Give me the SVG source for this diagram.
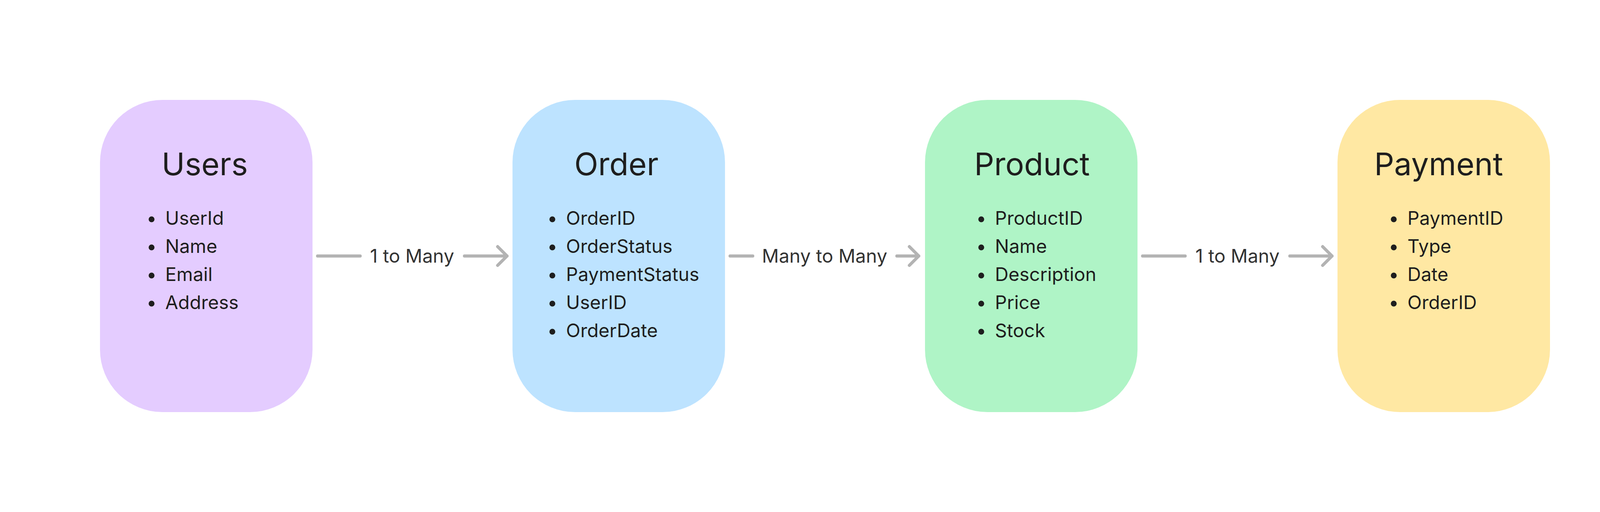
<svg xmlns="http://www.w3.org/2000/svg" width="4224" height="1312" viewBox="0 0 4224 1312">
  <style>
    .box { stroke: none; }
    .title { font-family: Inter, "Noto Sans", "Liberation Sans", sans-serif; font-size: 80px; fill: #1e1e1e; text-anchor: middle; }
    .item { font-family: Inter, "Noto Sans", "Liberation Sans", sans-serif; font-size: 48px; fill: #1e1e1e; }
    .dot { fill: #1e1e1e; }
    .edge { fill: none; stroke: #b3b3b3; stroke-width: 8; stroke-linecap: round; stroke-linejoin: round; }
    .label { font-family: Inter, "Noto Sans", "Liberation Sans", sans-serif; font-size: 48px; fill: #333333; text-anchor: middle; }
  </style>
  <rect width="4224" height="1312" fill="#ffffff"/>

  <g id="connectors">
    <g id="users-order">
      <path class="edge" d="M813 656 L922 656"/>
      <path class="edge" d="M1189 656 L1298 656 M1274 632 L1298 656 L1274 680"/>
      <text class="label" x="1055" y="673">1 to Many</text>
    </g>
    <g id="order-product">
      <path class="edge" d="M1869 656 L1927 656"/>
      <path class="edge" d="M2296 656 L2352 656 M2328 632 L2352 656 L2328 680"/>
      <text class="label" x="2111" y="673">Many to Many</text>
    </g>
    <g id="product-payment">
      <path class="edge" d="M2925 656 L3034 656"/>
      <path class="edge" d="M3302 656 L3410 656 M3386 632 L3410 656 L3386 680"/>
      <text class="label" x="3168" y="673">1 to Many</text>
    </g>
  </g>

  <g id="users">
    <rect class="box" x="256" y="256" width="544" height="800" rx="160" ry="160" fill="#E4CCFF"/>
    <text class="title" x="524" y="449">Users</text>
    <circle class="dot" cx="388" cy="562" r="7.5"/>
    <circle class="dot" cx="388" cy="634" r="7.5"/>
    <circle class="dot" cx="388" cy="706" r="7.5"/>
    <circle class="dot" cx="388" cy="778" r="7.5"/>
    <text class="item" x="423" y="576">UserId</text>
    <text class="item" x="423" y="648">Name</text>
    <text class="item" x="423" y="720">Email</text>
    <text class="item" x="423" y="792">Address</text>
  </g>

  <g id="order">
    <rect class="box" x="1312" y="256" width="544" height="800" rx="160" ry="160" fill="#BDE3FF"/>
    <text class="title" x="1578" y="449">Order</text>
    <circle class="dot" cx="1414" cy="562" r="7.5"/>
    <circle class="dot" cx="1414" cy="634" r="7.5"/>
    <circle class="dot" cx="1414" cy="706" r="7.5"/>
    <circle class="dot" cx="1414" cy="778" r="7.5"/>
    <circle class="dot" cx="1414" cy="850" r="7.5"/>
    <text class="item" x="1449" y="576">OrderID</text>
    <text class="item" x="1449" y="648">OrderStatus</text>
    <text class="item" x="1449" y="720">PaymentStatus</text>
    <text class="item" x="1449" y="792">UserID</text>
    <text class="item" x="1449" y="864">OrderDate</text>
  </g>

  <g id="product">
    <rect class="box" x="2368" y="256" width="544" height="800" rx="160" ry="160" fill="#AFF4C6"/>
    <text class="title" x="2642" y="449">Product</text>
    <circle class="dot" cx="2512" cy="562" r="7.5"/>
    <circle class="dot" cx="2512" cy="634" r="7.5"/>
    <circle class="dot" cx="2512" cy="706" r="7.5"/>
    <circle class="dot" cx="2512" cy="778" r="7.5"/>
    <circle class="dot" cx="2512" cy="850" r="7.5"/>
    <text class="item" x="2547" y="576">ProductID</text>
    <text class="item" x="2547" y="648">Name</text>
    <text class="item" x="2547" y="720">Description</text>
    <text class="item" x="2547" y="792">Price</text>
    <text class="item" x="2547" y="864">Stock</text>
  </g>

  <g id="payment">
    <rect class="box" x="3424" y="256" width="544" height="800" rx="160" ry="160" fill="#FFE8A3"/>
    <text class="title" x="3683" y="449">Payment</text>
    <circle class="dot" cx="3568" cy="562" r="7.5"/>
    <circle class="dot" cx="3568" cy="634" r="7.5"/>
    <circle class="dot" cx="3568" cy="706" r="7.5"/>
    <circle class="dot" cx="3568" cy="778" r="7.5"/>
    <text class="item" x="3603" y="576">PaymentID</text>
    <text class="item" x="3603" y="648">Type</text>
    <text class="item" x="3603" y="720">Date</text>
    <text class="item" x="3603" y="792">OrderID</text>
  </g>
</svg>
